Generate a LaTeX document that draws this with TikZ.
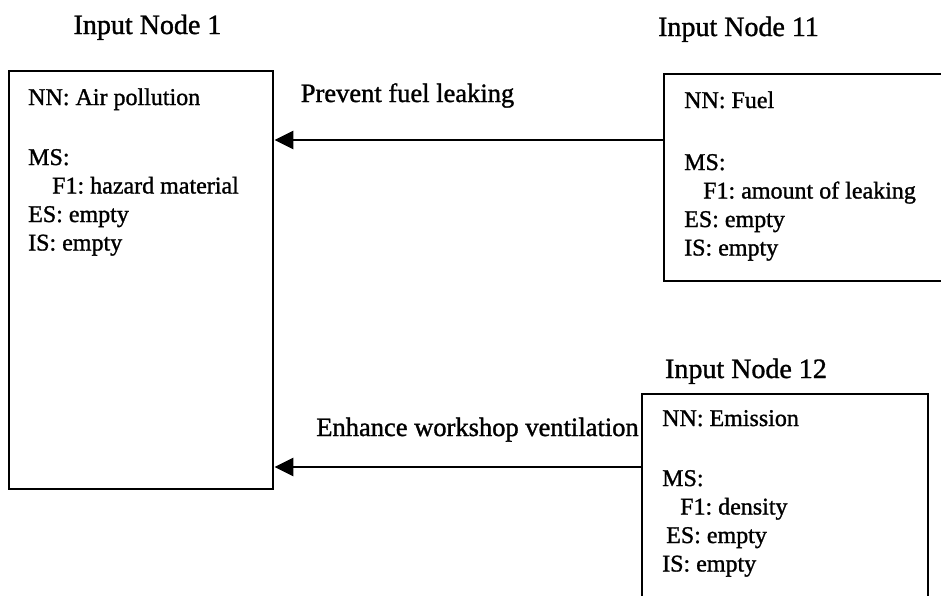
\documentclass[tikz,border=0pt]{standalone}
\usepackage{fontspec}
\setmainfont[FakeBold=1.2]{Liberation Serif}
\usetikzlibrary{arrows.meta}
\frenchspacing
\newcommand{\fieldlist}[1]{\parbox[t]{260pt}{\fontsize{24}{28.5}\selectfont #1}}
\begin{document}
\begin{tikzpicture}[x=1pt,y=-1pt,
  frame/.style={draw=black, line width=2.4pt, inner sep=0pt, anchor=north west},
  heading/.style={font=\fontsize{28}{32}\selectfont, anchor=base, inner sep=0pt},
  linklabel/.style={font=\fontsize{26.5}{30}\selectfont, anchor=base, inner sep=0pt},
  fields/.style={anchor=base west, inner sep=0pt},
  link/.style={line width=2.8pt, -{Triangle[length=19pt,width=18pt]}}]
\useasboundingbox (0,0) rectangle (941,595);
\fill[white] (0,0) rectangle (941,595);
\clip (0,0) rectangle (941,595);

% node frames (the two right-hand frames run past the page edge)
\node[frame, minimum width=264pt, minimum height=418pt] (box1) at (8,70) {};
\node[frame, minimum width=290pt, minimum height=207pt] (box11) at (663,73) {};
\node[frame, minimum width=286pt, minimum height=215pt] (box12) at (641,393) {};

% headings
\node[heading] (head1) at (147.5,34) {Input Node 1};
\node[heading] (head11) at (738.5,36) {Input Node 11};
\node[heading] (head12) at (746,378) {Input Node 12};

% field lists
\node[fields] (text1) at (28,105) {\fieldlist{NN: Air pollution\\[31.5pt]
  MS:\\ \hspace*{24pt}F1: hazard material\\ ES: empty\\ IS: empty}};
\node[fields] (text11) at (684,108) {\fieldlist{NN: Fuel\\[33.5pt]
  MS:\\ \hspace*{19pt}F1: amount of leaking\\ ES: empty\\ IS: empty}};
\node[fields] (text12) at (662,426) {\fieldlist{NN: Emission\\[31.5pt]
  MS:\\ \hspace*{18pt}F1: density\\ \hspace*{4pt}ES: empty\\ IS: empty}};

% connectors
\coordinate (row1) at (0,140);
\coordinate (row2) at (0,467);
\draw[link] (box11.west |- row1) -- (box1.east |- row1);
\draw[link] (box12.west |- row2) -- (box1.east |- row2);

% connector labels
\node[linklabel] (lab1) at (407.5,102) {Prevent fuel leaking};
\node[linklabel] (lab2) at (477.5,436) {Enhance workshop ventilation};
\end{tikzpicture}
\end{document}
